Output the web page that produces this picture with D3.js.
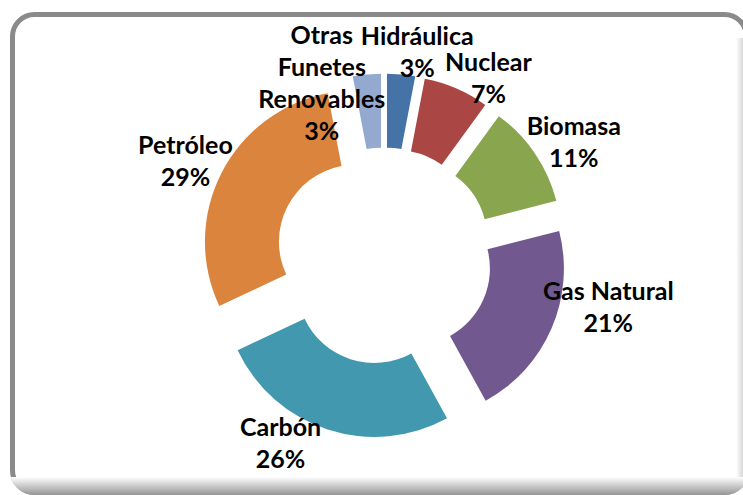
<!DOCTYPE html>
<html>
<head>
<meta charset="utf-8">
<script src="https://cdn.jsdelivr.net/npm/d3@7"></script>
<style>
	body { margin: 0; background: #fff; }
	svg { display: block; }
</style>
</head>
<body>
<svg id="chart" width="743" height="495"></svg>
<script>
// Chart data
var categories = ["Hidráulica", "Nuclear", "Biomasa", "Gas Natural", "Carbón", "Petróleo", "Otras Funetes Renovables"];
var values = [3, 7, 11, 21, 26, 29, 3];
var colors = ["#4573a7", "#aa4643", "#89a54e", "#71588f", "#4198af", "#db843d", "#93a9cf"];

// Manual label nudges (like Excel's moved labels)
var labelNudge = [[13, 11], [19, 20], [12, 8], [27, -33], [-37, -16], [-7, 4], [-42, 42]];

var width = 743,
	height = 495,
	cx = 384,
	cy = 256,
	outerR = 151,
	innerR = 77,
	explode = 31.5,
	labelR = 215,
	lineH = 32;

var svg = d3.select("#chart");
var defs = svg.append("defs");

// Clip = outer edge of the frame
defs.append("clipPath")
	.attr("id", "frameClip")
	.append("rect")
	.attr("x", 10).attr("y", 12)
	.attr("width", 739).attr("height", 483)
	.attr("rx", 24);

// Fading gradients for the bottom / right edges
let gBottom = defs.append("linearGradient")
	.attr("id", "fadeBottom")
	.attr("x1", 0).attr("y1", 0).attr("x2", 0).attr("y2", 1);
gBottom.append("stop").attr("offset", "0%").attr("stop-color", "#fff");
gBottom.append("stop").attr("offset", "100%").attr("stop-color", "#959595");

let gRight = defs.append("linearGradient")
	.attr("id", "fadeRight")
	.attr("x1", 0).attr("y1", 0).attr("x2", 1).attr("y2", 0);
gRight.append("stop").attr("offset", "0%").attr("stop-color", "#fff");
gRight.append("stop").attr("offset", "100%").attr("stop-color", "#d8d8d8");

// Frame (right edge sits just outside the picture)
svg.append("rect")
	.attr("x", 12.5)
	.attr("y", 14.5)
	.attr("width", 734)
	.attr("height", 478)
	.attr("rx", 22)
	.attr("fill", "#fff")
	.attr("stroke", "#8a8a8a")
	.attr("stroke-width", 5);

let edges = svg.append("g").attr("clip-path", "url(#frameClip)");
edges.append("rect")
	.attr("x", 736).attr("y", 38)
	.attr("width", 7).attr("height", 457)
	.attr("fill", "url(#fadeRight)");
edges.append("rect")
	.attr("x", 0).attr("y", 477)
	.attr("width", 743).attr("height", 18)
	.attr("fill", "url(#fadeBottom)");

var pie = d3.pie()
	.sort(null)
	.value((d) => d);

var arc = d3.arc()
	.innerRadius(innerR)
	.outerRadius(outerR);

var arcs = pie(values);

let g = svg.append("g")
	.attr("transform", "translate(" + cx + "," + cy + ")");

// Exploded slices
g.selectAll(".slice")
	.data(arcs)
	.enter()
	.append("path")
	.attr("class", "slice")
	.attr("d", arc)
	.attr("fill", (d, i) => colors[i])
	.attr("transform", (d) => {
		let mid = (d.startAngle + d.endAngle) / 2;
		return "translate(" + (Math.sin(mid) * explode) + "," + (-Math.cos(mid) * explode) + ")";
	});

// Wrap a name into lines of at most 11 chars
var wrap = (name) => {
	let words = name.split(" "), lines = [], cur = "";
	words.forEach((w) => {
		if (cur == "") cur = w;
		else if ((cur + " " + w).length <= 11) cur += " " + w;
		else { lines.push(cur); cur = w; }
	});
	lines.push(cur);
	return lines;
};

// Labels
var pct = d3.format(".0%");
var total = d3.sum(values);

let labels = g.selectAll(".label")
	.data(arcs)
	.enter()
	.append("text")
	.attr("class", "label")
	.attr("text-anchor", "middle")
	.style("font-family", "Lato, 'Open Sans', sans-serif")
	.style("font-weight", "bold")
	.style("font-size", "25px")
	.attr("fill", "#000");

labels.each(function(d, i) {
	let mid = (d.startAngle + d.endAngle) / 2;
	let lines = wrap(categories[i]).concat([pct(d.value / total)]);
	let x = Math.sin(mid) * labelR + labelNudge[i][0];
	let ym = -Math.cos(mid) * labelR + labelNudge[i][1];
	let y0 = ym - (lines.length - 1) * lineH / 2 + 8;
	let t = d3.select(this);
	lines.forEach((l, k) => {
		t.append("tspan")
			.attr("x", x)
			.attr("y", y0 + k * lineH)
			.text(l);
	});
});
</script>
</body>
</html>
